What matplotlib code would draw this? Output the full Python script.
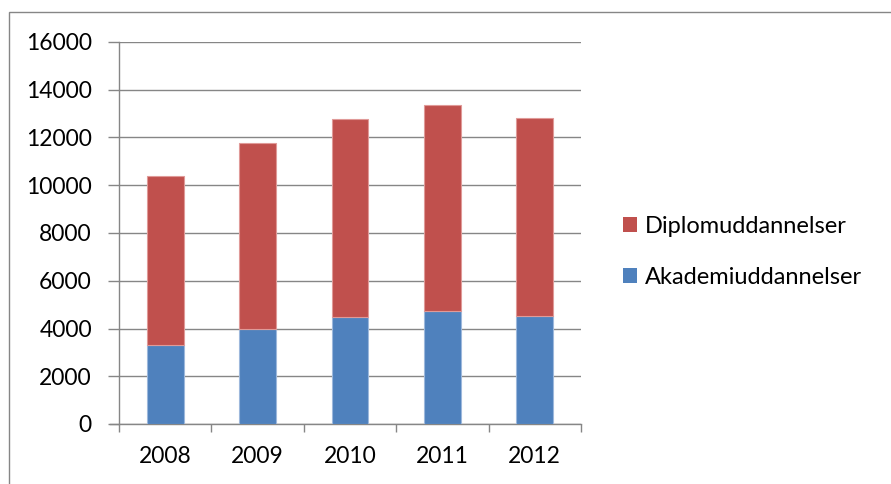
import matplotlib
matplotlib.use("Agg")
import matplotlib.pyplot as plt
from matplotlib.patches import Rectangle, Patch
import numpy as np

years = ["2008", "2009", "2010", "2011", "2012"]
akademi = [3320, 3970, 4490, 4725, 4530]
diplom = [7060, 7810, 8300, 8625, 8305]
yticks = [0, 2000, 4000, 6000, 8000, 10000, 12000, 14000, 16000]

plt.rcParams['font.family'] = ['Lato', 'DejaVu Sans']

W, H = 891, 484
fig = plt.figure(figsize=(W/100, H/100), dpi=100)
fig.patches.append(Rectangle((9/W, -0.1), 1.1, 1 - 12/H + 0.1, transform=fig.transFigure,
                             fill=False, edgecolor="#868686", linewidth=1.0))

ax = fig.add_axes([119/W, 1 - 424/H, (581-119)/W, (424-42)/H])
x = np.arange(len(years))
blue = "#4F81BD"
red = "#C0504D"
ax.bar(x, akademi, width=0.4, color=blue, edgecolor="#9DB8DC", linewidth=0.8, zorder=3,
       label="Akademiuddannelser")
ax.bar(x, diplom, bottom=akademi, width=0.4, color=red, edgecolor="#E09A98", linewidth=0.8,
       zorder=3, label="Diplomuddannelser")

ax.set_xlim(-0.5, 4.5)
ax.set_ylim(0, 16000)
ax.set_yticks(yticks)
ax.set_yticklabels([str(v) for v in yticks], fontsize=16.5)
ax.set_xticks(x)
ax.set_xticklabels(years, fontsize=16.5)
ax.set_xticks(np.arange(-0.5, 5, 1), minor=True)
ax.tick_params(axis='x', which='major', length=0, pad=16)
ax.tick_params(axis='x', which='minor', length=5.8, color="#868686", width=1.0, direction='out')
ax.tick_params(axis='y', length=8, color="#868686", width=1.0, pad=11.5)
ax.grid(axis='y', color="#868686", linewidth=1.0, zorder=0)
for s in ["top", "right"]:
    ax.spines[s].set_visible(False)
for s in ["left", "bottom"]:
    ax.spines[s].set_color("#868686")
    ax.spines[s].set_linewidth(1.0)
ax.spines["bottom"].set_bounds(-0.5 - 9/92.4, 4.5)

handles = [Patch(facecolor=red), Patch(facecolor=blue)]
labels = ["Diplomuddannelser", "Akademiuddannelser"]
fig.legend(handles, labels, loc="center left", bbox_to_anchor=(602/W, 1 - 252/H),
           frameon=False, fontsize=17, handlelength=0.6, handleheight=0.6,
           handletextpad=0.3, labelspacing=1.25)

fig.savefig("out.png", dpi=100)
